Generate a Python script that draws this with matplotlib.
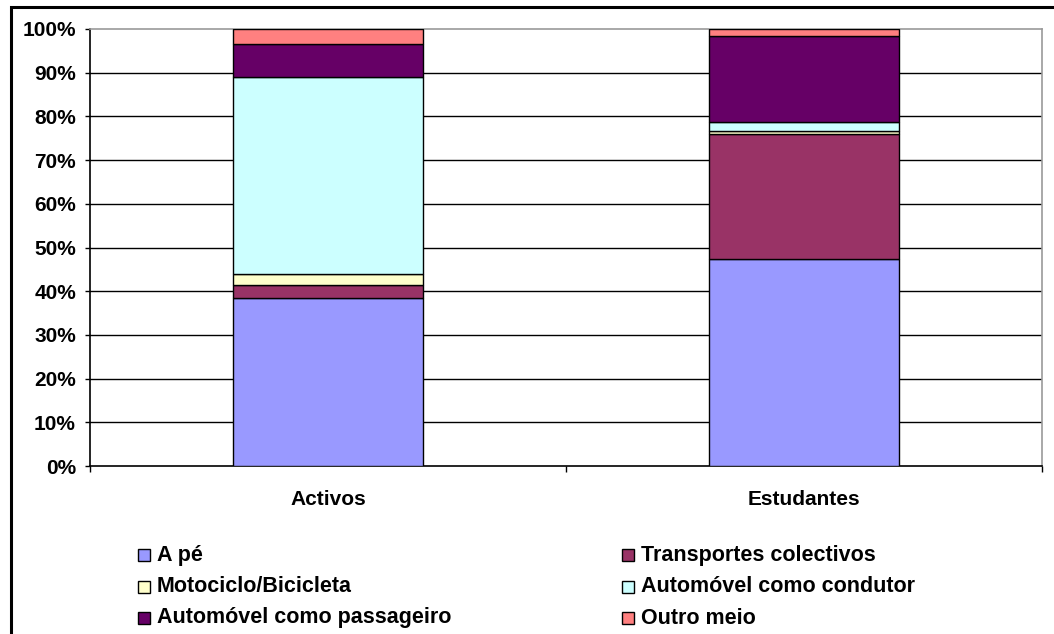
import numpy as np
import matplotlib.pyplot as plt
from matplotlib.patches import Rectangle

plt.rcParams['font.family'] = ['Liberation Sans', 'DejaVu Sans']

# Modal split (%) per group
groups = ['Activos', 'Estudantes']
modes = ['A pé', 'Transportes colectivos', 'Motociclo/Bicicleta',
         'Automóvel como condutor', 'Automóvel como passageiro', 'Outro meio']
a_pe = [38.4, 47.4]
transportes = [3.0, 28.6]
moto = [2.5, 0.7]
condutor = [45.1, 2.1]
passageiro = [7.6, 19.7]
outro = [3.4, 1.5]
series = [a_pe, transportes, moto, condutor, passageiro, outro]
colors = ['#9999FF', '#993366', '#FFFFCC', '#CCFFFF', '#660066', '#FF8080']

W, H = 1054, 634
fig = plt.figure(figsize=(W / 100, H / 100), dpi=100)
fig.patch.set_facecolor('white')

# outer chart frame (right/bottom run off the canvas)
fig.patches.append(Rectangle((11 / W, -0.05), 1.1, (H - 7) / H + 0.05,
                             transform=fig.transFigure, fill=False,
                             edgecolor='black', linewidth=2.2))

ax = fig.add_axes([90 / W, 1 - 466 / H, (1042 - 90) / W, (466 - 29) / H])
x = np.arange(len(groups))
bottom = np.zeros(len(groups))
for vals, col, name in zip(series, colors, modes):
    ax.bar(x, vals, width=0.4, bottom=bottom, color=col, edgecolor='black',
           linewidth=1.0, label=name, zorder=3)
    bottom += np.array(vals)

ax.set_xlim(-0.5, 1.5)
ax.set_ylim(0, 100)
ax.set_yticks(np.arange(0, 101, 10))
ax.set_yticklabels([f'{v}%' for v in range(0, 101, 10)],
                   fontsize=15, fontweight='bold')
ax.set_xticks(x)
ax.set_xticklabels(groups, fontsize=15, fontweight='bold')
ax.tick_params(axis='x', length=0, pad=17)
ax.tick_params(axis='y', direction='out', length=3.6, width=1, pad=6.5)
# category separators on the x axis
ax.set_xticks([-0.5, 0.5, 1.5], minor=True)
ax.tick_params(axis='x', which='minor', direction='out', length=4.5, width=1)

for v in range(10, 100, 10):
    ax.axhline(v, color='black', linewidth=1.0, zorder=1)
ax.spines['left'].set_color('black')
ax.spines['bottom'].set_color('black')
ax.spines['top'].set_color('#999999')
ax.spines['right'].set_color('#999999')
for s in ax.spines.values():
    s.set_linewidth(1.2)

# legend laid out in two columns, row-wise
for i, (name, col) in enumerate(zip(modes, colors)):
    row, c = divmod(i, 2)
    mx = [138, 622][c]
    my = 555 + 31.5 * row
    fig.patches.append(Rectangle((mx / W, 1 - (my + 6) / H), 12 / W, 12 / H,
                                 transform=fig.transFigure, facecolor=col,
                                 edgecolor='black', linewidth=1.0))
    fig.text((mx + 19) / W, 1 - my / H, name, fontsize=15.5,
             fontweight='bold', va='center', ha='left')

fig.savefig('out.png', dpi=100)
